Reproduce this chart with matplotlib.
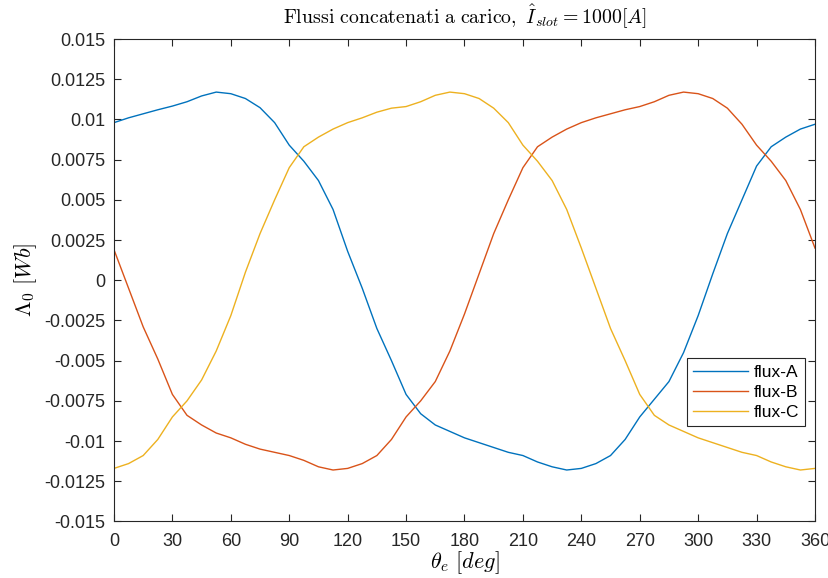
import numpy as np
import matplotlib
matplotlib.use("Agg")
import matplotlib.pyplot as plt

# angoli elettrici [deg], passo 7.5
theta = np.arange(0, 360.1, 7.5)

flux_a = [0.0098, 0.0101, 0.01035, 0.0106, 0.01083, 0.0111, 0.01146, 0.0117,
          0.0116, 0.0113, 0.01073, 0.0098, 0.0084, 0.0074, 0.0062, 0.0044,
          0.0018, -0.0005, -0.0030, -0.0050, -0.0071, -0.0083, -0.0090, -0.0094,
          -0.0098, -0.0101, -0.0104, -0.0107, -0.0109, -0.0113, -0.0116, -0.0118,
          -0.0117, -0.0114, -0.0109, -0.0099, -0.0085, -0.0074, -0.0063, -0.0045,
          -0.0022, 0.0004, 0.0029, 0.0050, 0.0071, 0.0083, 0.0089, 0.0094, 0.0097]

flux_b = [0.0019, -0.0005, -0.0029, -0.0049, -0.0071, -0.0084, -0.0090, -0.0095,
          -0.0098, -0.0102, -0.0105, -0.0107, -0.0109, -0.0112, -0.0116, -0.0118,
          -0.0117, -0.0114, -0.0109, -0.0099, -0.0085, -0.0075, -0.0063, -0.0044,
          -0.0021, 0.0004, 0.0029, 0.0050, 0.0070, 0.0083, 0.0089, 0.0094,
          0.0098, 0.0101, 0.01035, 0.0106, 0.0108, 0.0111, 0.0115, 0.0117,
          0.0116, 0.0113, 0.0107, 0.0097, 0.0084, 0.0074, 0.0062, 0.0044, 0.0020]

flux_c = [-0.0117, -0.0114, -0.0109, -0.0099, -0.0085, -0.0075, -0.0062, -0.0044,
          -0.0022, 0.0005, 0.0029, 0.0050, 0.0070, 0.0083, 0.0089, 0.0094,
          0.0098, 0.0101, 0.01045, 0.0107, 0.0108, 0.0111, 0.0115, 0.0117,
          0.0116, 0.0113, 0.0107, 0.0098, 0.0084, 0.0074, 0.0062, 0.0044,
          0.0020, -0.0005, -0.0030, -0.0050, -0.0071, -0.0084, -0.0090, -0.0094,
          -0.0098, -0.0101, -0.0104, -0.0107, -0.0109, -0.0113, -0.0116, -0.0118, -0.0117]

labels = ['flux-A', 'flux-B', 'flux-C']
colors = ['#0072BD', '#D95319', '#EDB120']

plt.rcParams['font.family'] = ['Liberation Sans', 'DejaVu Sans']
plt.rcParams['mathtext.fontset'] = 'cm'

fig = plt.figure(figsize=(8.29, 5.78), dpi=100)
ax = fig.add_axes([0.1375, 0.0978, 0.8456, 0.8347])

for y, lab, col in zip([flux_a, flux_b, flux_c], labels, colors):
    ax.plot(theta, y, color=col, lw=1.0, label=lab)

ax.set_xlim(0, 360)
ax.set_ylim(-0.015, 0.015)
ax.set_xticks(np.arange(0, 361, 30))
yt = np.linspace(-0.015, 0.015, 13)
ax.set_yticks(yt)
ax.set_yticklabels(['%g' % round(v, 6) for v in yt])

grey = (0.15, 0.15, 0.15)
for s in ax.spines.values():
    s.set_color(grey)
    s.set_linewidth(0.8)
ax.tick_params(direction='in', length=5, width=0.8, colors=grey,
               labelsize=13, top=True, right=True)
ax.tick_params(axis='y', pad=6)
ax.tick_params(axis='x', pad=8)

ax.set_title(r'$\mathrm{Flussi\ concatenati\ a\ carico,}\ \hat{I}_{slot} = 1000[A]$',
             fontsize=14.3, pad=11)
ax.set_xlabel(r'$\theta_e\ [deg]$', fontsize=16, labelpad=0)
ax.set_ylabel(r'$\Lambda_0\ [Wb]$', fontsize=16, labelpad=4)

leg = ax.legend(loc='lower right', bbox_to_anchor=(0.9858, 0.197), borderaxespad=0,
                fancybox=False, framealpha=1, fontsize=12.5, handlelength=3.2,
                handletextpad=0.3, borderpad=0.35, labelspacing=0.3)
leg.get_frame().set_edgecolor(grey)
leg.get_frame().set_linewidth(0.8)

fig.savefig('out.png', dpi=100)
